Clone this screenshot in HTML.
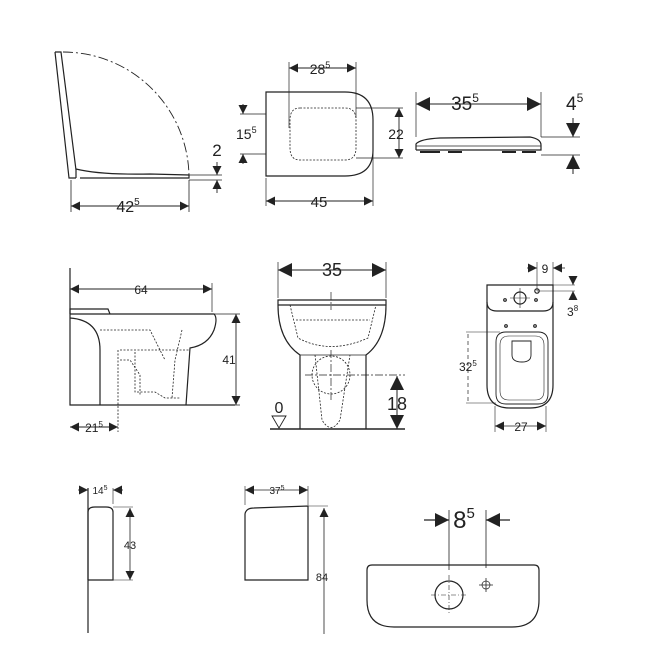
<!DOCTYPE html>
<html><head><meta charset="utf-8"><style>
html,body{margin:0;padding:0;background:#fff;}
svg{display:block;}
text{font-family:"Liberation Sans",sans-serif;fill:#222;}
</style></head><body>
<svg width="668" height="664" viewBox="0 0 668 664" xmlns="http://www.w3.org/2000/svg">
<defs>
<marker id="a" viewBox="0 0 10 10" refX="10" refY="5" markerWidth="9" markerHeight="9" markerUnits="userSpaceOnUse" orient="auto-start-reverse"><path d="M0,0 L10,5 L0,10 z" fill="#222"/></marker>
<marker id="b" viewBox="0 0 10 10" refX="10" refY="5" markerWidth="14" markerHeight="14" markerUnits="userSpaceOnUse" orient="auto-start-reverse"><path d="M0,0 L10,5 L0,10 z" fill="#222"/></marker>
</defs>
<g stroke="#222" fill="none" stroke-width="1.2">
<!-- Panel 1 seat side -->
<path d="M55,52 L61,52 L76,170 L76,178 M55,52 L69,178 L76,178"/>
<path d="M76,169 Q100,175 150,174 L189,175 L189,178 L80,178" />
<path d="M63,52 A126,126 0 0 1 189,176" stroke-dasharray="10,3,2,3" stroke-width="0.9"/>
<path d="M71,180 V212 M189,180 V212 M189,175 H222 M189,180 H222" stroke-width="0.8"/>
<path d="M71,206 H189" stroke-width="0.9" marker-start="url(#a)" marker-end="url(#a)"/>
<path d="M217,162 V175" stroke-width="0.9" marker-end="url(#a)"/>
<path d="M217,193 V180" stroke-width="0.9" marker-end="url(#a)"/>
<!-- Panel 2 seat top -->
<path d="M266,92 H345 Q373,92 373,120 V150 Q373,176 345,176 H266 Z"/>
<path d="M300,108 H345 Q356,108 356,120 V148 Q356,160 345,160 H300 Q290,160 290,148 V120 Q290,108 300,108 Z" stroke-dasharray="2,1.5" stroke-width="0.8"/>
<path d="M289,62 V128 M356,62 V118 M373,118 V206 M266,178 V206 M240,114 H266 M240,154 H266 M356,108 H403 M356,158 H403" stroke-width="0.7"/>
<path d="M289,68 H356" stroke-width="0.9" marker-start="url(#a)" marker-end="url(#a)"/>
<path d="M266,201 H373" stroke-width="0.9" marker-start="url(#a)" marker-end="url(#a)"/>
<path d="M243,104 V114" stroke-width="0.9" marker-end="url(#a)"/>
<path d="M243,164 V154" stroke-width="0.9" marker-end="url(#a)"/>
<path d="M399,108 V158" stroke-width="0.9" marker-start="url(#a)" marker-end="url(#a)"/>
<!-- Panel 3 seat front -->
<path d="M416,150 L416,144 Q420,139 440,138 L530,137 Q541,139 541,145 V150 H416"/>
<path d="M416,146 H541" stroke-width="0.7"/>
<path d="M420,152 H440 M448,152 H462 M502,152 H516 M522,152 H536" stroke-width="2"/>
<path d="M416,92 V137 M541,92 V137 M541,137 H580 M541,155 H580" stroke-width="0.7"/>
<path d="M416,104 H541" stroke-width="1" marker-start="url(#b)" marker-end="url(#b)"/>
<path d="M573,118 V137" stroke-width="1" marker-end="url(#b)"/>
<path d="M573,174 V155" stroke-width="1" marker-end="url(#b)"/>
<!-- Panel 4 side toilet -->
<path d="M70,268 V405 H235"/>
<path d="M70,314 H214 Q218,318 214,330 Q208,345 190,348 L186,405"/>
<path d="M70,318 Q100,320 100,350 V405"/>
<path d="M70,314 V309 H108 L110,314"/>
<path d="M212,283 V312 M214,314 H240 M214,405 H240" stroke-width="0.7"/>
<path d="M100,330 H150 L165,360 M120,350 H190 M135,352 V392 H155 L165,398 H180 M120,360 H130 L140,375 L140,395 M182,330 L175,360 L172,398 M118,350 V432" stroke-dasharray="2,1.5" stroke-width="0.8"/>
<path d="M70,289 H212" stroke-width="0.9" marker-start="url(#a)" marker-end="url(#a)"/>
<path d="M236,314 V405" stroke-width="0.9" marker-start="url(#a)" marker-end="url(#a)"/>
<path d="M70,427 H118" stroke-width="0.9" marker-start="url(#a)" marker-end="url(#a)"/>
<!-- Panel 5 front toilet -->
<path d="M278,300 H386 V305 H278 Z M278,305 Q278,340 300,355 L300,429 M386,305 Q386,340 366,355 L366,429"/>
<path d="M270,429 H405" stroke-width="1.6"/>
<path d="M300,355 H366" stroke-width="0.7"/>
<path d="M290,305 L298,338 Q330,355 368,338 L376,305 M315,355 L322,420 Q331,435 340,420 L350,355 M296,320 H370" stroke-dasharray="2,1.5" stroke-width="0.8"/>
<circle cx="331" cy="375" r="19" stroke-dasharray="2,1.5" stroke-width="0.8"/>
<path d="M305,375 H405 M331,350 V400 M331,292 V310" stroke-dasharray="8,2,2,2" stroke-width="0.7"/>
<path d="M278,262 V298 M386,262 V298" stroke-width="0.7"/>
<path d="M278,270 H386" stroke-width="1" marker-start="url(#b)" marker-end="url(#b)"/>
<path d="M397,376 V429" stroke-width="1" marker-start="url(#b)" marker-end="url(#b)"/>
<path d="M272,416 H286 L279,428 Z" stroke-width="0.9"/>
<!-- Panel 6 tank top view -->
<path d="M487,285 H553 V385 Q553,408 530,408 H510 Q487,408 487,385 Z"/>
<path d="M487,302 Q487,311 497,311 H543 Q553,311 553,302"/>
<path d="M506,332 H538 Q548,332 548,342 V394 Q548,404 538,404 H506 Q496,404 496,394 V342 Q496,332 506,332 Z" stroke-width="0.9"/>
<path d="M509,336 H535 Q544,336 544,345 V391 Q544,400 535,400 H509 Q500,400 500,391 V345 Q500,336 509,336 Z" stroke-width="0.6"/>
<path d="M512,341 H531 V355 Q531,362 522,362 Q512,362 512,355 Z" stroke-width="0.9"/>
<circle cx="520" cy="298" r="6"/><circle cx="537" cy="291" r="2.2"/>
<circle cx="505" cy="300" r="1.3"/><circle cx="536" cy="300" r="1.3"/>
<circle cx="506" cy="326" r="1.3"/><circle cx="535" cy="326" r="1.3"/>
<path d="M520,288 V308 M510,298 H530" stroke-width="0.6"/>
<path d="M537,262 V291 M553,262 V285 M537,291 H575 M553,285 H575 M466,332 H500 M466,403 H496 M495,406 V432 M546,406 V432" stroke-width="0.6"/>
<path d="M468,334 V402" stroke-dasharray="4,3" stroke-width="0.7"/>
<path d="M527,268 H537" stroke-width="0.8" marker-end="url(#a)"/>
<path d="M565,268 H553" stroke-width="0.8" marker-end="url(#a)"/>
<path d="M573,276 V285" stroke-width="0.8" marker-end="url(#a)"/>
<path d="M573,300 V291" stroke-width="0.8" marker-end="url(#a)"/>
<path d="M495,426 H546" stroke-width="0.8" marker-start="url(#a)" marker-end="url(#a)"/>
<!-- Panel 7 tank side -->
<path d="M88,488 V633"/>
<path d="M88,580 V512 Q88,507 95,507 H106 Q113,507 113,512 V580 H88"/>
<path d="M113,488 V504 M113,507 H133 M113,580 H133" stroke-width="0.6"/>
<path d="M78,490 H88" stroke-width="0.8" marker-end="url(#a)"/>
<path d="M123,490 H113" stroke-width="0.8" marker-end="url(#a)"/>
<path d="M130,508 V580" stroke-width="0.8" marker-start="url(#a)" marker-end="url(#a)"/>
<!-- Panel 8 tank front -->
<path d="M245,580 V514 Q246,508 254,508 L308,506 V580 Z"/>
<path d="M245,486 V505 M308,486 V505 M308,506 H328" stroke-width="0.6"/>
<path d="M245,490 H308" stroke-width="0.8" marker-start="url(#a)" marker-end="url(#a)"/>
<path d="M324,634 V508" stroke-width="0.8" marker-end="url(#a)"/>
<!-- Panel 9 -->
<path d="M367,570 Q367,565 372,565 H534 Q539,565 539,570 V600 Q539,627 512,627 H394 Q367,627 367,600 Z"/>
<circle cx="449" cy="595" r="14"/>
<path d="M431,595 H467 M449,575 V613" stroke-dasharray="5,2,1,2" stroke-width="0.6"/>
<path d="M449,510 V570 M486,510 V568" stroke-width="0.8"/>
<path d="M486,578 V592 M479,585 H493" stroke-width="0.8"/>
<circle cx="486" cy="585" r="4" stroke-width="0.7"/>
<path d="M424,520 H449" stroke-width="1.2" marker-end="url(#b)"/>
<path d="M510,520 H486" stroke-width="1.2" marker-end="url(#b)"/>
</g>
<g>
<text x="217" y="156" font-size="17" text-anchor="middle">2</text>
<text x="128" y="212" font-size="16" text-anchor="middle">42<tspan font-size="10" dy="-7">5</tspan></text>
<text x="320" y="74" font-size="14" text-anchor="middle">28<tspan font-size="9" dy="-6">5</tspan></text>
<text x="236" y="139" font-size="14">15<tspan font-size="9" dy="-6">5</tspan></text>
<text x="396" y="139" font-size="14" text-anchor="middle">22</text>
<text x="319" y="207" font-size="15" text-anchor="middle">45</text>
<text x="465" y="110" font-size="19" text-anchor="middle">35<tspan font-size="12" dy="-8">5</tspan></text>
<text x="566" y="110" font-size="19">4<tspan font-size="12" dy="-8">5</tspan></text>
<text x="141" y="294" font-size="12" text-anchor="middle">64</text>
<text x="229" y="364" font-size="12" text-anchor="middle">41</text>
<text x="94" y="432" font-size="12" text-anchor="middle">21<tspan font-size="8" dy="-5">5</tspan></text>
<text x="332" y="276" font-size="18" text-anchor="middle">35</text>
<text x="397" y="410" font-size="18" text-anchor="middle">18</text>
<text x="279" y="413" font-size="16" text-anchor="middle">0</text>
<text x="545" y="273" font-size="12" text-anchor="middle">9</text>
<text x="567" y="316" font-size="12">3<tspan font-size="8" dy="-5">8</tspan></text>
<text x="459" y="371" font-size="12">32<tspan font-size="8" dy="-5">5</tspan></text>
<text x="521" y="431" font-size="12" text-anchor="middle">27</text>
<text x="100" y="494" font-size="10" text-anchor="middle">14<tspan font-size="7" dy="-4">5</tspan></text>
<text x="130" y="549" font-size="11" text-anchor="middle">43</text>
<text x="277" y="494" font-size="10" text-anchor="middle">37<tspan font-size="7" dy="-4">5</tspan></text>
<text x="322" y="581" font-size="11" text-anchor="middle">84</text>
<text x="464" y="528" font-size="24" text-anchor="middle">8<tspan font-size="15" dy="-10">5</tspan></text>
</g>
</svg>
</body></html>
